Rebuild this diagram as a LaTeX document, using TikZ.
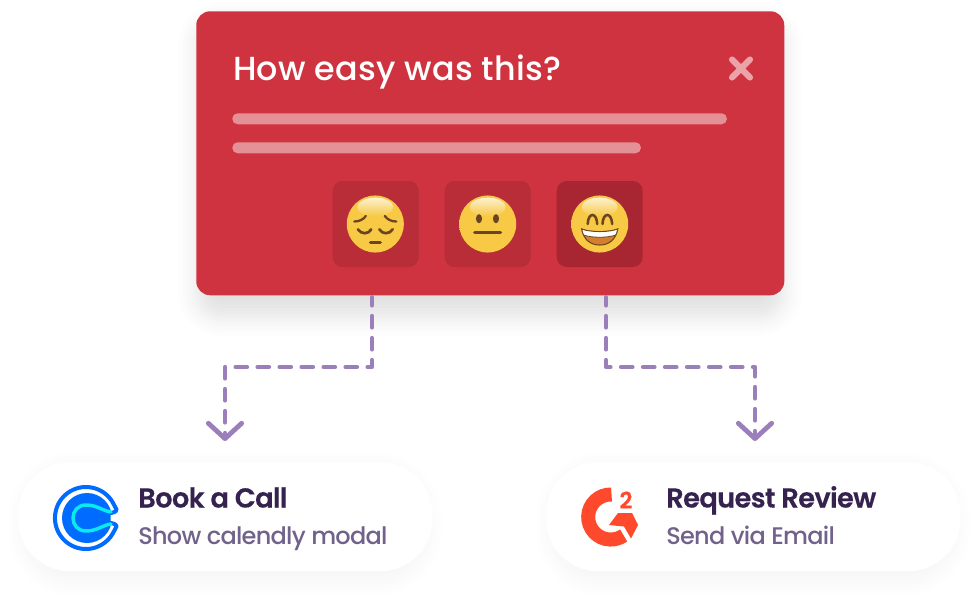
\documentclass[tikz,border=0pt]{standalone}
\usepackage{fontspec}
\setmainfont{Poppins}[LetterSpace=-2.5]
\newfontfamily\titlefont{Poppins Medium}[LetterSpace=0.6]
\newfontfamily\headfont{Poppins SemiBold}[LetterSpace=-2.5,FakeBold=0.3]
\newfontfamily\subfont{Poppins Medium}[LetterSpace=-3]
\usetikzlibrary{arrows.meta,fadings}
\definecolor{cardred}{HTML}{CE333F}
\definecolor{tilered}{HTML}{B82D38}
\definecolor{tiledark}{HTML}{A72631}
\definecolor{barpink}{HTML}{E39097}
\definecolor{closepink}{HTML}{EBA3A8}
\definecolor{flow}{HTML}{9B7FBB}
\definecolor{headtxt}{HTML}{35224F}
\definecolor{subtxt}{HTML}{70628A}
\definecolor{emobrown}{HTML}{6B4423}
\definecolor{emoface}{HTML}{F7C944}
\definecolor{calblue}{HTML}{006BFF}
\definecolor{calcyan}{HTML}{0AE8F0}
\definecolor{gtwo}{HTML}{FF492C}
\pgfdeclareradialshading{facegrad}{\pgfpoint{0bp}{0bp}}{color(0bp)=(emoface); color(40bp)=(emoface); color(47bp)=(emoface!80!orange); color(50bp)=(emoface!60!orange)}
\newcommand{\softshadow}[7]{% x1 y1 x2 y2 radius opacity spreads
  \foreach \sp in {#7}{%
    \pgfmathsetmacro{\rr}{max(1,(#5+\sp))*0.75}%
    \fill[black,opacity=#6,rounded corners=\rr pt] (#1-\sp,-#2+\sp) rectangle (#3+\sp,-#4-\sp);
  }}
\newcommand{\emoface}{%
  \shade[shading=facegrad] (0,0) circle[radius=21.4pt];
  \fill[white,opacity=.75,path fading=south] (0,17) ellipse[x radius=13.5pt,y radius=7pt];
}
\tikzset{
  card/.style={fill=cardred,rounded corners=10.5pt,minimum width=441pt,minimum height=213pt,inner sep=0pt,anchor=north west},
  tile/.style={fill=tilered,rounded corners=7.5pt,minimum width=64.5pt,minimum height=64.5pt,inner sep=0pt},
  pill/.style={fill=white,rounded corners=39pt,minimum width=310.5pt,minimum height=81.75pt,inner sep=0pt,anchor=north west},
  bar/.style={fill=barpink,rounded corners=4pt,inner sep=0pt,minimum height=8.25pt,anchor=north west},
  flowline/.style={draw=flow,line width=3.6pt,line cap=round,line join=round,dash pattern=on 8.25pt off 8.25pt,dash phase=2.5pt,-{Straight Barb[length=11.5pt,width=25pt,line width=3.6pt,round]}},
  headline/.style={font=\headfont\fontsize{20.5pt}{26pt}\selectfont,text=headtxt,anchor=base west,inner sep=0pt},
  subline/.style={font=\subfont\fontsize{18pt}{24pt}\selectfont,text=subtxt,anchor=base west,inner sep=0pt},
  emoline/.style={draw=emobrown,line cap=round}
}
\begin{document}
\begin{tikzpicture}[x=0.75pt,y=0.75pt]
\useasboundingbox (0,-597) rectangle (979,0);
% shadows
\softshadow{208}{32}{772}{306}{14}{0.009}{-16,-13,...,5,7,9,...,17,20,23,26,30}
\softshadow{26}{470}{424}{578}{48}{0.0035}{-6,-3,...,18}
\softshadow{554}{470}{952}{578}{48}{0.0035}{-6,-3,...,18}
% card
\node[card] (popup) at (196,-11) {};
\node[anchor=base west,inner sep=0pt,text=white,font=\titlefont\fontsize{25pt}{32pt}\selectfont] (title) at (233,-80) {How easy was this?};
\draw[closepink,line width=4.6pt,line cap=round] (732,-59.5) -- (750,-77.5) (750,-59.5) -- (732,-77.5);
\node[bar,minimum width=371pt] (bara) at (232,-113) {};
\node[bar,minimum width=306.5pt] (barb) at (232,-142) {};
\node[tile] (tilea) at (375.7,-224) {};
\node[tile] (tileb) at (487.7,-224) {};
\node[tile,fill=tiledark] (tilec) at (599.7,-224) {};
% sad
\begin{scope}[shift={(375.3,-224)}]
\emoface
\begin{scope}[yscale=-1]
\draw[emoline,line width=1.7pt] (-21,-2.5) .. controls (-16,-2.5) and (-12,-4.5) .. (-9.5,-8);
\draw[emoline,line width=1.7pt] (21,-2.5) .. controls (16,-2.5) and (12,-4.5) .. (9.5,-8);
\draw[emoline,line width=2pt] (-17.5,5.3) .. controls (-14,10.5) and (-7,10.5) .. (-4,5.3);
\draw[emoline,line width=2pt] (17.5,5.3) .. controls (14,10.5) and (7,10.5) .. (4,5.3);
\draw[emoline,line width=2.2pt] (-5,18.3) -- (5,18.3);
\end{scope}
\end{scope}
% neutral
\begin{scope}[shift={(487.7,-224)}]
\emoface
\fill[emobrown] (-8.7,5.3) ellipse[x radius=2.3pt,y radius=3.4pt];
\fill[emobrown] (8.3,5.3) ellipse[x radius=2.3pt,y radius=3.4pt];
\draw[emoline,line width=2.2pt] (-13,-8.3) -- (13,-8.3);
\end{scope}
% smile
\begin{scope}[shift={(599.7,-224)}]
\emoface
\begin{scope}[yscale=-1]
\draw[emoline,line width=1.9pt] (-12,0) .. controls (-11.5,-12) and (-3,-12) .. (-2.5,0);
\draw[emoline,line width=1.9pt] (2.8,0) .. controls (3.3,-12) and (11.8,-12) .. (12.5,0);
\fill[draw=emobrown,line width=.8pt,fill=brown!70!orange] (-18,5) .. controls (-10,8.5) and (10,8.5) .. (18,5) .. controls (16,16) and (9,21) .. (0,21) .. controls (-9,21) and (-16,16) .. (-18,5) -- cycle;
\fill[white,draw=emobrown,line width=.6pt] (-18,5) .. controls (-10,8.5) and (10,8.5) .. (18,5) .. controls (17.5,8) and (16.5,10) .. (16,11) .. controls (8,14) and (-8,14) .. (-16,11) .. controls (-16.5,10) and (-17.5,8) .. (-18,5) -- cycle;
\end{scope}
\end{scope}
% pills
\node[pill] (bookpill) at (18,-462) {};
\node[pill] (reviewpill) at (546,-462) {};
\node[headline] (booktitle) at (138,-507.5) {Book a Call};
\node[subline] (booksub) at (138,-544.5) {Show calendly modal};
\node[headline] (reviewtitle) at (666,-507.5) {Request Review};
\node[subline] (reviewsub) at (666,-544.5) {Send via Email};
% connectors
\path (popup.south) ++(0,-2) coordinate (bottom);
\coordinate (la) at (bottom -| 372,0);
\coordinate (lb) at (372,-367);
\coordinate (lc) at (225,-367);
\coordinate (ld) at (225,-441);
\coordinate (ra) at (bottom -| 606,0);
\coordinate (rb) at (606,-367);
\coordinate (rc) at (755,-367);
\coordinate (rd) at (755,-441);
\draw[flowline] (la) -- (lb) -- (lc) -- (ld);
\draw[flowline] (ra) -- (rb) -- (rc) -- (rd);
% calendly logo
\draw[calblue,line width=3pt,line join=round,line cap=round] (110,-513) .. controls (112,-513) and (116.5,-512) .. (116.5,-509.5) -- (112.8,-502.5) arc[start angle=30,end angle=330,radius=23.25pt] -- (116.5,-526.5) .. controls (116.5,-524) and (112,-523) .. (110,-523);
\begin{scope}
\clip (55,-560) rectangle (110.5,-480);
\fill[calblue] (87,-518) circle[radius=18.75pt];
\end{scope}
\draw[calcyan,line width=2.6pt,line cap=round] (111,-512) .. controls (103,-511) and (97,-505) .. (86,-505) .. controls (78,-505) and (73,-511) .. (73,-518) .. controls (73,-525) and (78,-531) .. (86,-531) .. controls (97,-531) and (103,-525) .. (111,-524);
% g2 logo
\draw[gtwo,line width=10.5pt] (611.5,-494.5) arc[start angle=88,end angle=305,radius=16.9pt];
\fill[gtwo] (609,-525) -- (618,-513) -- (632,-513) -- (638,-525) -- (631,-538.5) -- (624,-526.5) -- cycle;
\node[inner sep=0pt,text=gtwo,font=\headfont\fontsize{17pt}{17pt}\selectfont] (gtwotext) at (626,-500) {2};
\end{tikzpicture}
\end{document}
